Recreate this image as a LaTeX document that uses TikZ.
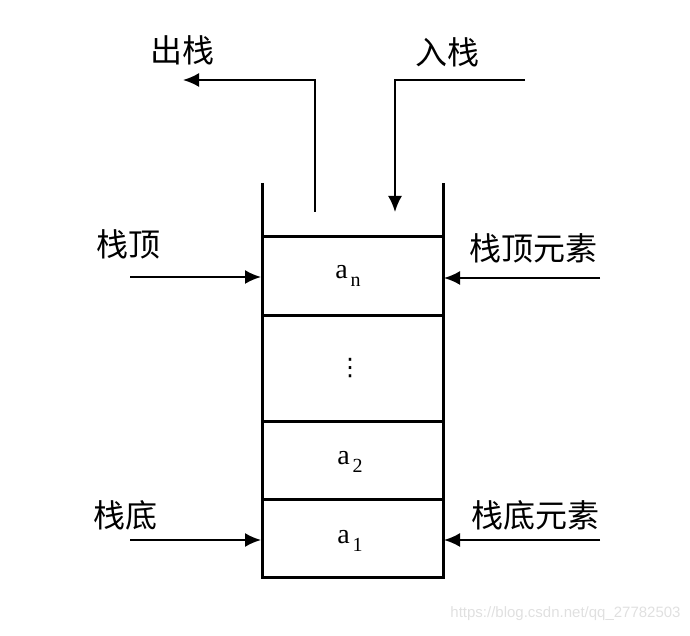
\documentclass[tikz,border=0pt]{standalone}
\usepackage{fontspec}
\setmainfont{Liberation Serif}
\newfontfamily\cjk{Noto Sans CJK SC}
\newfontfamily\wmfont{Liberation Sans}
\newfontfamily\symfont{DejaVu Sans}
\usetikzlibrary{arrows.meta}
\newcommand{\elemsub}[1]{a\kern1.5pt\raisebox{-0.6ex}{\fontsize{10}{12}\selectfont #1}}
\tikzset{
  wall/.style={line width=1.5pt},
  pointer/.style={line width=1pt, -{Latex[length=8pt,width=7pt]}},
  lbl/.style={font=\cjk\fontsize{16}{18}\selectfont, inner sep=0pt},
  elem/.style={font=\fontsize{14}{16}\selectfont, inner sep=0pt}
}
\begin{document}
\begin{tikzpicture}[x=0.5pt,y=0.5pt]
    \useasboundingbox (0,0) rectangle (690,636);
    % stack body
    \draw[wall] (262,453) -- (262,58) -- (443,58) -- (443,453);
    \foreach \y in {399,320,214,136}
        \draw[wall] (262,\y) -- (443,\y);
    \node[elem] (an) at (348,360) {\elemsub{n}};
    \node[elem, font=\symfont\fontsize{12}{14}\selectfont] (dots) at (350,268) {⋮};
    \node[elem] (atwo) at (350,174) {\elemsub{2}};
    \node[elem] (aone) at (350,95) {\elemsub{1}};
    % push and pop
    \node[lbl] (pop) at (182,586) {出栈};
    \node[lbl] (push) at (447,584) {入栈};
    \coordinate (popfrom) at (315,424);
    \coordinate (popto) at (183,556);
    \coordinate (pushfrom) at (525,556);
    \coordinate (pushto) at (395,424);
    \draw[pointer] (popfrom) |- (popto);
    \draw[pointer] (pushfrom) -| (pushto);
    % top and bottom pointers
    \node[lbl] (top) at (128,392) {栈顶};
    \node[lbl] (topelem) at (533,388) {栈顶元素};
    \node[lbl] (bottom) at (125,121) {栈底};
    \node[lbl] (bottomelem) at (535,121) {栈底元素};
    \coordinate (topfrom) at (130,359);
    \coordinate (topto) at (261,359);
    \coordinate (topelemfrom) at (600,358);
    \coordinate (topelemto) at (444,358);
    \coordinate (bottomfrom) at (130,96);
    \coordinate (bottomto) at (261,96);
    \coordinate (bottomelemfrom) at (600,96);
    \coordinate (bottomelemto) at (444,96);
    \draw[pointer] (topfrom) -- (topto);
    \draw[pointer] (topelemfrom) -- (topelemto);
    \draw[pointer] (bottomfrom) -- (bottomto);
    \draw[pointer] (bottomelemfrom) -- (bottomelemto);
    \node[font=\wmfont\fontsize{7.5}{9}\selectfont, text=black!12, anchor=east, inner sep=0pt] (mark) at (681,22) {https://blog.csdn.net/qq\_27782503};
\end{tikzpicture}
\end{document}
